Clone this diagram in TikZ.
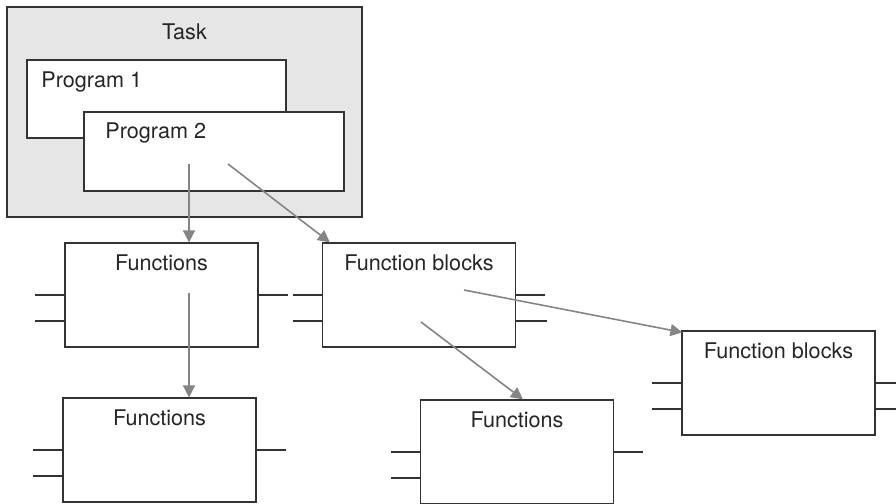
\documentclass[tikz,border=0pt]{standalone}
\usepackage{fontspec}
\setmainfont{TeX Gyre Heros}
\usepackage{xcolor}
\usepackage{tikz}
\usetikzlibrary{arrows.meta, positioning}

\definecolor{taskgray}{HTML}{E6E6E6}
\definecolor{edgegray}{HTML}{333333}
\definecolor{arrowgray}{HTML}{858585}

\begin{document}
\begin{tikzpicture}[x=0.5pt, y=-0.5pt, >={Triangle[length=6pt, width=6pt]},
    txt/.style={font=\fontsize{10.8}{13}\selectfont, text=black!85},
    frame/.style={draw=edgegray, line width=0.6pt, fill=white, inner sep=0pt},
    unit/.style={frame, minimum width=96.5pt, minimum height=52pt,
        label={[txt, anchor=north, yshift=-2.8pt]north:#1}},
    pin/.style={draw=edgegray, line width=0.6pt},
    call/.style={->, draw=arrowgray, line width=0.8pt}]

    \useasboundingbox (0,0) rectangle (896,504);

    % =================================================================
    % 1. TASK VA CAC PROGRAM
    % =================================================================
    \node[frame, fill=taskgray, minimum width=177.5pt, minimum height=105pt] (task) at (184.5,112) {};
    \node[txt, anchor=north] (tasklabel) at ([yshift=-5pt]task.north) {Task};

    \node[frame, minimum width=129.5pt, minimum height=39pt] (prog1) at (156.5,99) {};
    \node[txt, anchor=north west] (prog1label) at ([xshift=4pt, yshift=-2.7pt]prog1.north west) {Program 1};

    \node[frame, minimum width=130pt, minimum height=39.5pt] (prog2) at (214,151.5) {};
    \node[txt, anchor=north west] (prog2label) at ([xshift=7.5pt, yshift=-2.3pt]prog2.north west) {Program 2};

    % =================================================================
    % 2. CAC KHOI FUNCTIONS VA FUNCTION BLOCKS
    % =================================================================
    \node[unit=Functions] (fun1) at (161.5,295) {};
    \node[unit=Functions] (fun2) at (159.5,450) {};
    \node[unit=Functions] (fun3) at (517,452) {};
    \node[unit=Function blocks] (fb1) at (419,295) {};
    \node[unit=Function blocks] (fb2) at (778.5,383) {};

    % =================================================================
    % 3. CAC CHAN VAO / RA
    % =================================================================
    \foreach \b in {fun1, fun2, fun3, fb1, fb2} {
        \draw[pin] (\b.west) -- ++(-14.5pt,0);
        \draw[pin] ([yshift=-13pt]\b.west) -- ++(-14.5pt,0);
        \draw[pin] (\b.east) -- ++(14.5pt,0);
    }
    \draw[pin] ([yshift=-13pt]fb1.east) -- ++(15.5pt,0);
    \draw[pin] ([yshift=-13pt]fb2.east) -- ++(14.5pt,0);

    % =================================================================
    % 4. CAC MUI TEN GOI
    % =================================================================
    \coordinate (src1) at (189,164);
    \coordinate (src2) at (228,164);
    \coordinate (src3) at (189,293);
    \coordinate (src4) at (464,290);
    \coordinate (src5) at (421,322);

    \draw[call] (src1) -- (src1 |- fun1.north);
    \draw[call] (src2) -- ([xshift=4pt]fb1.north west);
    \draw[call] (src3) -- (src3 |- fun2.north);
    \draw[call] (src4) -- ([xshift=0.5pt, yshift=-1pt]fb2.north west);
    \draw[call] (src5) -- ([xshift=3pt]fun3.north);

\end{tikzpicture}
\end{document}
